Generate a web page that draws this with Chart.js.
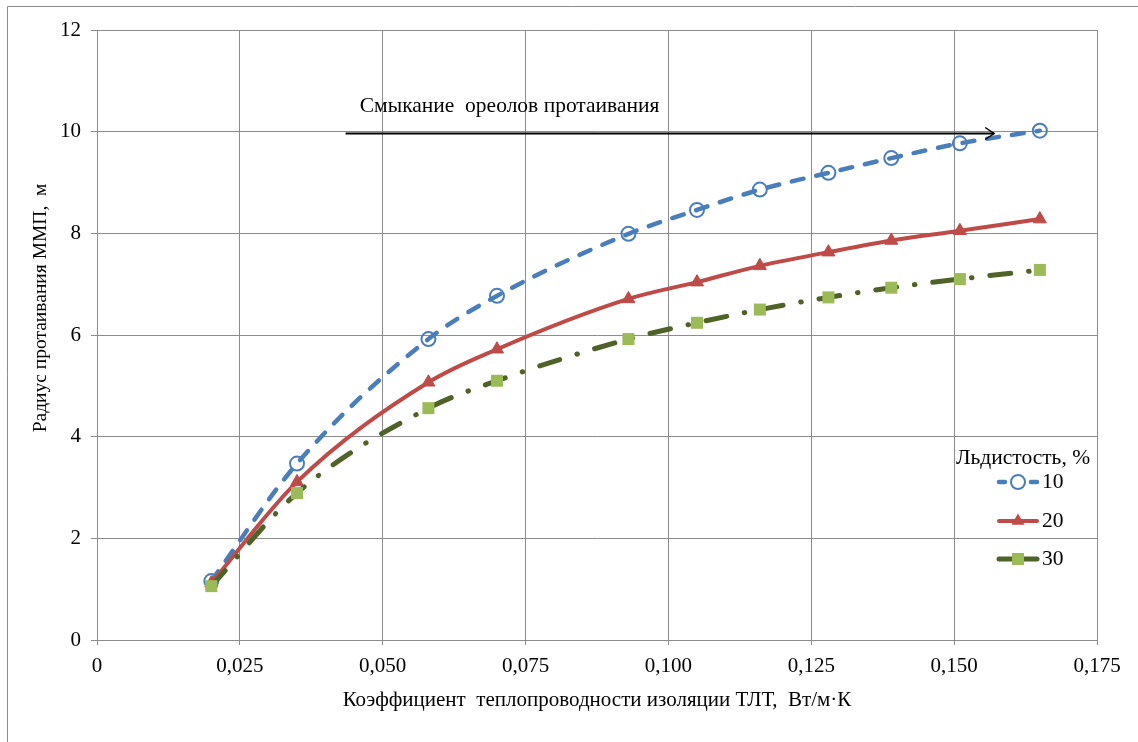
<!DOCTYPE html>
<html>
<head>
    <title>Радиус протаивания</title>
    <script src="https://cdn.jsdelivr.net/npm/chart.js"></script>
    <style>
        body { margin: 0; background: #fff; }
        #wrap { width: 1138px; height: 742px; position: relative; }
    </style>
</head>
<body>
    <div id="wrap">
        <canvas id="myChart" width="1138" height="742"></canvas>
    </div>

    <script>
        // Thermal conductivity of insulation, W/m·K
        var kValues = [0.020, 0.035, 0.058, 0.070, 0.093, 0.105, 0.116, 0.128, 0.139, 0.151, 0.165];
        // Thaw radius, m, for ice content 10 / 20 / 30 %
        var radius10 = [1.16, 3.47, 5.92, 6.77, 7.99, 8.46, 8.86, 9.19, 9.48, 9.77, 10.02];
        var radius20 = [1.12, 3.11, 5.07, 5.72, 6.71, 7.04, 7.36, 7.63, 7.86, 8.05, 8.28];
        var radius30 = [1.06, 2.89, 4.56, 5.10, 5.92, 6.24, 6.50, 6.74, 6.93, 7.10, 7.28];
        var seriesLabels = ['10', '20', '30'];
        var xTicks = [0, 0.025, 0.05, 0.075, 0.1, 0.125, 0.15, 0.175];
        var yTicks = [0, 2, 4, 6, 8, 10, 12];

        // arrow "Смыкание ореолов протаивания"
        var arrowFrom = 0.0435, arrowTo = 0.157, arrowY = 9.98;
        var noteX = 0.0722, noteY = 10.5;

        var FONT = '"Liberation Serif", "Times New Roman", serif';
        var BLUE = '#4A7EBB', RED = '#BE4B48', GREEN_LINE = '#4F6228', GREEN_MARK = '#9BBB59';

        function pts(ys) {
            return kValues.map(function (x, i) { return { x: x, y: ys[i] }; });
        }

        var styles = [
            { line: BLUE, dash: [12, 13], width: 4.5, point: 'circle', r: 7, fill: 'rgba(0,0,0,0)', stroke: BLUE, bw: 2 },
            { line: RED, dash: [], width: 4, point: 'triangle', r: 7.5, fill: RED, stroke: RED, bw: 1 },
            { line: GREEN_LINE, dash: [21, 18, 0.5, 18], width: 5, point: 'rect', r: 8.5, fill: GREEN_MARK, stroke: GREEN_MARK, bw: 0 }
        ];
        var allSeries = [radius10, radius20, radius30];

        var datasets = allSeries.map(function (ys, i) {
            var s = styles[i];
            return {
                label: seriesLabels[i],
                data: pts(ys),
                borderColor: s.line,
                borderWidth: s.width,
                borderDash: s.dash,
                borderCapStyle: 'round',
                tension: 0.4,
                cubicInterpolationMode: 'monotone',
                pointStyle: s.point,
                pointRadius: s.r,
                pointBackgroundColor: s.fill,
                pointBorderColor: s.stroke,
                pointBorderWidth: s.bw,
                order: 3 - i
            };
        });

        // frame, annotation, axis title and legend
        var extras = {
            id: 'extras',
            beforeDraw: function (chart) {
                var c = chart.ctx;
                c.save();
                c.fillStyle = '#fff';
                c.fillRect(0, 0, chart.width, chart.height);
                c.strokeStyle = '#8c8c8c';
                c.lineWidth = 1;
                c.beginPath();
                c.moveTo(7.5, chart.height);
                c.lineTo(7.5, 6.5);
                c.lineTo(chart.width, 6.5);
                c.stroke();
                c.restore();
            },
            afterDraw: function (chart) {
                var c = chart.ctx, xs = chart.scales.x, ys = chart.scales.y;
                c.save();
                // y axis title
                c.translate(41, 308);
                c.rotate(-Math.PI / 2);
                c.font = '19.5px ' + FONT;
                c.fillStyle = '#000';
                c.textAlign = 'center';
                c.textBaseline = 'middle';
                c.fillText('Радиус протаивания ММП,  м', 0, 0);
                c.restore();

                // arrow
                var x1 = xs.getPixelForValue(arrowFrom), x2 = xs.getPixelForValue(arrowTo);
                var ay = Math.round(ys.getPixelForValue(arrowY)) + 0.5;
                c.save();
                c.strokeStyle = '#000';
                c.lineWidth = 2;
                c.beginPath();
                c.moveTo(x1, ay);
                c.lineTo(x2, ay);
                c.stroke();
                c.lineWidth = 1.5;
                c.beginPath();
                c.moveTo(x2 - 9, ay - 6);
                c.lineTo(x2, ay);
                c.lineTo(x2 - 9, ay + 6);
                c.stroke();
                c.font = '21.5px ' + FONT;
                c.fillStyle = '#000';
                c.textAlign = 'center';
                c.textBaseline = 'middle';
                c.fillText('Смыкание  ореолов протаивания', xs.getPixelForValue(noteX), ys.getPixelForValue(noteY));
                c.restore();

                // legend
                c.save();
                c.font = '21.5px ' + FONT;
                c.fillStyle = '#000';
                c.textBaseline = 'middle';
                c.textAlign = 'center';
                c.fillText('Льдистость, %', 1023, 458);
                var rows = [482, 521, 559];
                styles.forEach(function (s, i) {
                    var y = rows[i];
                    c.save();
                    c.strokeStyle = s.line;
                    c.lineWidth = s.width;
                    c.lineCap = 'round';
                    c.setLineDash(i === 0 ? [6, 10] : []);
                    c.beginPath();
                    c.moveTo(999, y);
                    c.lineTo(1037, y);
                    c.stroke();
                    c.restore();
                    c.save();
                    c.fillStyle = s.point === 'circle' ? '#fff' : s.fill;
                    c.strokeStyle = s.stroke;
                    c.lineWidth = s.bw;
                    c.beginPath();
                    if (s.point === 'circle') {
                        c.arc(1018, y, s.r, 0, Math.PI * 2);
                        c.fill();
                        c.stroke();
                    } else if (s.point === 'triangle') {
                        c.moveTo(1018, y - s.r);
                        c.lineTo(1018 + s.r * 0.866, y + s.r / 2);
                        c.lineTo(1018 - s.r * 0.866, y + s.r / 2);
                        c.closePath();
                        c.fill();
                    } else {
                        var h = s.r * Math.SQRT1_2;
                        c.fillRect(1018 - h, y - h, 2 * h, 2 * h);
                    }
                    c.restore();
                    c.textAlign = 'left';
                    c.fillText(seriesLabels[i], 1042, y);
                });
                c.restore();
            }
        };

        var ctx = document.getElementById('myChart').getContext('2d');
        var myChart = new Chart(ctx, {
            type: 'line',
            data: { datasets: datasets },
            options: {
                responsive: false,
                animation: false,
                layout: { padding: { left: 0, top: 30, right: 41, bottom: 0 } },
                plugins: {
                    legend: { display: false },
                    tooltip: { enabled: false }
                },
                scales: {
                    x: {
                        type: 'linear',
                        min: 0,
                        max: 0.175,
                        afterFit: function (s) { s.height = 102; },
                        afterBuildTicks: function (s) {
                            s.ticks = xTicks.map(function (v) { return { value: v }; });
                        },
                        ticks: {
                            padding: 9,
                            color: '#000',
                            font: { family: FONT, size: 21 },
                            maxRotation: 0,
                            callback: function (v) {
                                return v === 0 ? '0' : v.toFixed(3).replace('.', ',');
                            }
                        },
                        grid: { color: '#8c8c8c', lineWidth: 1, tickLength: 5, tickColor: '#8c8c8c' },
                        border: { color: '#8c8c8c' },
                        title: {
                            display: true,
                            text: 'Коэффициент  теплопроводности изоляции ТЛТ,  Вт/м·К',
                            color: '#000',
                            font: { family: FONT, size: 21 },
                            padding: { top: 0, bottom: 29 }
                        }
                    },
                    y: {
                        min: 0,
                        max: 12,
                        afterFit: function (s) { s.width = 97; },
                        afterBuildTicks: function (s) {
                            s.ticks = yTicks.map(function (v) { return { value: v }; });
                        },
                        ticks: {
                            padding: 10,
                            color: '#000',
                            font: { family: FONT, size: 21 }
                        },
                        grid: { color: '#8c8c8c', lineWidth: 1, tickLength: 6, tickColor: '#8c8c8c' },
                        border: { color: '#8c8c8c' }
                    }
                }
            },
            plugins: [extras]
        });
    </script>
</body>
</html>
